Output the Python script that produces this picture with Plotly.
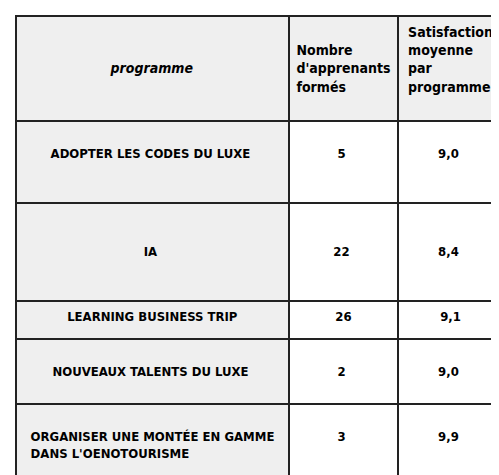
import plotly.graph_objects as go

headers = ["<i>programme</i>", "Nombre<br>d'apprenants<br>formés", "Satisfaction<br>moyenne<br>par<br>programme"]
programmes = [
    "ADOPTER LES CODES DU LUXE",
    "IA",
    "LEARNING BUSINESS TRIP",
    "NOUVEAUX TALENTS DU LUXE",
    "ORGANISER UNE MONTÉE EN GAMME<br>DANS L'OENOTOURISME",
]
apprenants = ["5", "22", "26", "2", "3"]
satisfaction = ["9,0", "8,4", "9,1", "9,0", "9,9"]

# blank lines to reproduce the uneven row heights of the source table
pads = [(1, 2), (2, 2), (0, 0), (1, 1), (1, 1)]
B = "&nbsp;<br>"


def padded(vals):
    return ["<b>" + B * a + v + B * b + "&nbsp;</b>" if a or b else "<b>" + v + "</b>"
            for v, (a, b) in zip(vals, pads)]


def pad_header(v, n):
    lines = v.count("<br>") + 1
    top = (n - lines) // 2
    return "<b>" + B * top + v + "<br>&nbsp;" * (n - lines - top) + "</b>"


fig = go.Figure(go.Table(
    columnwidth=[273, 109, 105],
    header=dict(
        values=[pad_header(h, 5) for h in headers],
        fill_color="#efefef",
        line=dict(color="#222222", width=2),
        align="center",
        font=dict(family="DejaVu Sans Condensed, Liberation Sans Narrow, Roboto", size=14, color="black"),
        height=22,
    ),
    cells=dict(
        values=[padded(programmes), padded(apprenants), padded(satisfaction)],
        fill_color=["#efefef", "white", "white"],
        line=dict(color="#222222", width=2),
        align="center",
        font=dict(family="DejaVu Sans Condensed, Liberation Sans Narrow, Roboto", size=13, color="black"),
        height=38,
    ),
))

fig.update_layout(
    width=499, height=475,
    margin=dict(l=8, r=4, t=8, b=4),
    paper_bgcolor="white",
)

fig.write_html("out.html")
